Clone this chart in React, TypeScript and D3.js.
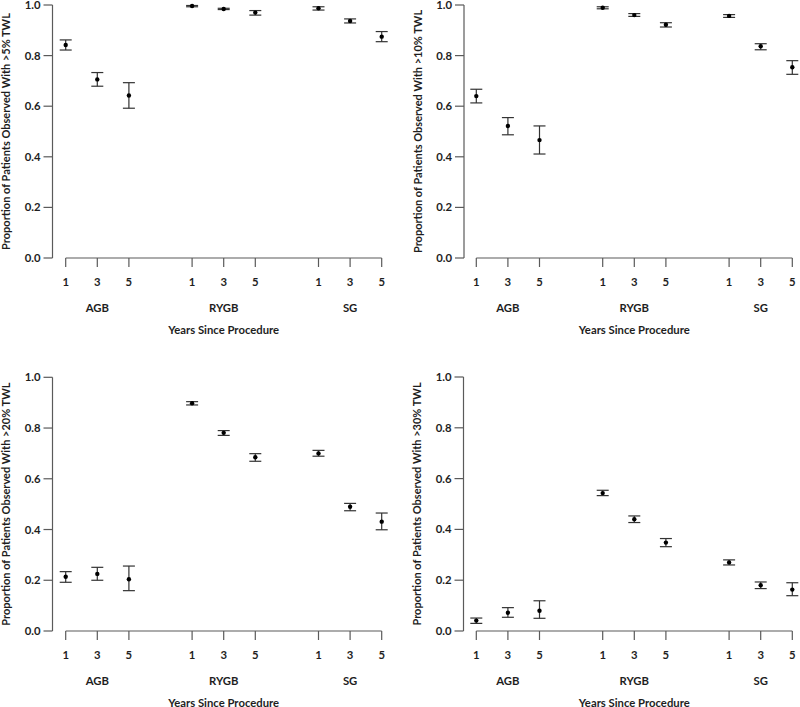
import React from "react";
import * as d3 from "d3";

const groups = ["AGB", "RYGB", "SG"];
const years = ["1", "3", "5"];
const yTicks = [0, 0.2, 0.4, 0.6, 0.8, 1.0];

const titles = [
  "Proportion of Patients Observed With >5% TWL",
  "Proportion of Patients Observed With >10% TWL",
  "Proportion of Patients Observed  With >20% TWL",
  "Proportion of Patients Observed With >30% TWL",
];

// order: AGB 1,3,5, RYGB 1,3,5, SG 1,3,5
const est5 = [0.842, 0.706, 0.642, 0.996, 0.984, 0.970, 0.987, 0.937, 0.875];
const lo5 = [0.822, 0.679, 0.592, 0.993, 0.982, 0.960, 0.980, 0.929, 0.855];
const hi5 = [0.862, 0.733, 0.693, 0.998, 0.987, 0.978, 0.993, 0.945, 0.895];

const est10 = [0.640, 0.522, 0.466, 0.989, 0.960, 0.922, 0.957, 0.837, 0.754];
const lo10 = [0.613, 0.487, 0.411, 0.985, 0.955, 0.913, 0.951, 0.823, 0.726];
const hi10 = [0.667, 0.555, 0.522, 0.993, 0.966, 0.930, 0.962, 0.847, 0.780];

const est20 = [0.214, 0.225, 0.204, 0.898, 0.781, 0.685, 0.700, 0.490, 0.431];
const lo20 = [0.192, 0.200, 0.159, 0.891, 0.771, 0.669, 0.689, 0.474, 0.399];
const hi20 = [0.234, 0.251, 0.256, 0.904, 0.790, 0.699, 0.712, 0.503, 0.465];

const est30 = [0.041, 0.072, 0.080, 0.543, 0.440, 0.348, 0.270, 0.180, 0.163];
const lo30 = [0.030, 0.054, 0.050, 0.533, 0.427, 0.332, 0.260, 0.167, 0.139];
const hi30 = [0.051, 0.092, 0.119, 0.554, 0.453, 0.364, 0.280, 0.193, 0.190];

const panelData = [
  { est: est5, lo: lo5, hi: hi5 },
  { est: est10, lo: lo10, hi: hi10 },
  { est: est20, lo: lo20, hi: hi20 },
  { est: est30, lo: lo30, hi: hi30 },
];

const FONT = "Lato, 'Open Sans', sans-serif";
const AXIS = "#5a5a5a";

type PanelProps = {
  axisX: number;
  x0: number;
  top: number;
  bottom: number;
  title: string;
  est: number[];
  lo: number[];
  hi: number[];
};

function Panel({ axisX, x0, top, bottom, title, est, lo, hi }: PanelProps) {
  const positions: number[] = [];
  groups.forEach((_, g) => years.forEach((__, k) => positions.push(g * 4 + k)));
  const x = d3.scaleLinear().domain([0, 10]).range([x0, x0 + 316]);
  const y = d3.scaleLinear().domain([0, 1]).range([bottom, top]);
  const cap = 6;
  return (
    <g fontFamily={FONT} fontWeight={700} fill="#1e1e1e">
      {/* y axis */}
      <line x1={axisX} x2={axisX} y1={y(0)} y2={y(1)} stroke={AXIS} strokeWidth={1.2} />
      {yTicks.map((t) => (
        <g key={t}>
          <line x1={axisX - 9} x2={axisX} y1={y(t)} y2={y(t)} stroke={AXIS} strokeWidth={1.2} />
          <text x={axisX - 12} y={y(t)} dy="0.36em" textAnchor="end" fontSize={11.3}>
            {t.toFixed(1)}
          </text>
        </g>
      ))}
      <text
        transform={`translate(${axisX - 42.5},${(y(0) + y(1)) / 2}) rotate(-90)`}
        textAnchor="middle"
        fontSize={11}
      >
        {title}
      </text>
      {/* x axis */}
      <line x1={x(0)} x2={x(10)} y1={bottom} y2={bottom} stroke={AXIS} strokeWidth={1.2} />
      {positions.map((p, i) => (
        <g key={i}>
          <line x1={x(p)} x2={x(p)} y1={bottom} y2={bottom + 9} stroke={AXIS} strokeWidth={1.2} />
          <text x={x(p)} y={bottom + 28} textAnchor="middle" fontSize={11.3}>
            {years[i % 3]}
          </text>
        </g>
      ))}
      {groups.map((g, gi) => (
        <text key={g} x={x(gi * 4 + 1)} y={bottom + 54} textAnchor="middle" fontSize={11.3}>
          {g}
        </text>
      ))}
      <text x={x(5)} y={bottom + 76} textAnchor="middle" fontSize={11.3}>
        Years Since Procedure
      </text>
      {/* error bars */}
      {positions.map((p, i) => (
        <g key={"e" + i} stroke="#333" strokeWidth={1.2}>
          <line x1={x(p)} x2={x(p)} y1={y(lo[i])} y2={y(hi[i])} />
          <line x1={x(p) - cap} x2={x(p) + cap} y1={y(lo[i])} y2={y(lo[i])} />
          <line x1={x(p) - cap} x2={x(p) + cap} y1={y(hi[i])} y2={y(hi[i])} />
          <circle cx={x(p)} cy={y(est[i])} r={2.2} fill="#000" stroke="none" />
        </g>
      ))}
    </g>
  );
}

export default function App() {
  const layouts = [
    { axisX: 52.5, x0: 65.7, top: 5, bottom: 258 },
    { axisX: 464, x0: 476.3, top: 5, bottom: 258 },
    { axisX: 52.5, x0: 65.7, top: 377.3, bottom: 631 },
    { axisX: 463.5, x0: 476.3, top: 377, bottom: 631 },
  ];
  return (
    <svg
      width={800}
      height={707}
      style={{ position: "absolute", left: 0, top: 0, background: "#fff" }}
    >
      {layouts.map((l, i) => (
        <Panel key={i} {...l} title={titles[i]} {...panelData[i]} />
      ))}
    </svg>
  );
}
